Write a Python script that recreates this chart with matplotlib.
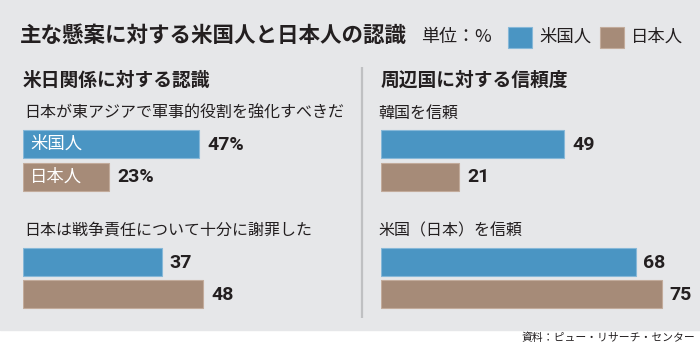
import matplotlib
matplotlib.use("Agg")
import matplotlib.pyplot as plt
from matplotlib.patches import Rectangle

plt.rcParams['font.family'] = ['Noto Sans CJK JP', 'DejaVu Sans']

# data
title = '主な懸案に対する米国人と日本人の認識'
unit_label = '単位：%'
series = ['米国人', '日本人']
panel_titles = ['米日関係に対する認識', '周辺国に対する信頼度']
questions = [['日本が東アジアで軍事的役割を強化すべきだ', '日本は戦争責任について十分に謝罪した'],
             ['韓国を信頼', '米国（日本）を信頼']]
us_values = [[47, 37], [49, 68]]
jp_values = [[23, 48], [21, 75]]
source = '資料：ピュー・リサーチ・センター'

# look
W, H = 700, 349
BG = '#e6e7e9'
BLUE = '#4a95c3'
BROWN = '#a68b78'
EDGES = ['#86b8d8', '#c2ab9b']
INK = '#231f20'
PX_PER_UNIT = 3.75
NUM_FONT = ['Roboto', 'DejaVu Sans']

fig = plt.figure(figsize=(W / 100, H / 100), dpi=100, facecolor='white')
ax0 = fig.add_axes([0, 0, 1, 1])
ax0.set_xlim(0, W)
ax0.set_ylim(H, 0)
ax0.axis('off')

# gray card
ax0.add_patch(Rectangle((0, 0), W, 330, color=BG, zorder=0))

# header
ax0.text(20, 35, title, fontsize=15.5, fontweight='bold', color=INK, va='center')
ax0.text(421, 37, unit_label, fontsize=13, color=INK, va='center')
for i, (name, col) in enumerate(zip(series, [BLUE, BROWN])):
    x = 508 + i * 92
    ax0.add_patch(Rectangle((x, 27), 24, 21, facecolor=col, edgecolor=EDGES[i], lw=0.8))
    ax0.text(x + 31, 37, name, fontsize=12.5, color=INK, va='center')

# divider between panels
ax0.plot([362, 362], [67, 318], color='#bfc0c2', lw=1.6, solid_capstyle='butt')

# source
ax0.text(695, 338, source, fontsize=7.8, color=INK, ha='right', va='center')

panel_x = [23, 380.5]
for p in range(2):
    x0 = panel_x[p]
    ax0.text(x0, 80, panel_titles[p], fontsize=13.5, fontweight='bold', color=INK, va='center')

    ax = fig.add_axes([x0 / W, 0, 310 / W, 1])
    ax.set_xlim(0, 310 / PX_PER_UNIT)
    ax.set_ylim(H, 0)
    ax.axis('off')
    ax.patch.set_alpha(0)

    for q in range(2):
        top = 130 + q * 117.5
        ax0.text(x0 + (1 if p == 0 else -2), top - 17, questions[p][q], fontsize=11.5,
                 color=INK, va='center')
        vals = [us_values[p][q], jp_values[p][q]]
        ys = [top + 14, top + 14 + 32.5]
        ax.barh(ys, vals, height=28, color=[BLUE, BROWN], edgecolor=EDGES, linewidth=0.8)
        for j, (v, y) in enumerate(zip(vals, ys)):
            lab = f'{v}%' if (p == 0 and q == 0) else str(v)
            ax.text(v + 8 / PX_PER_UNIT, y + 1, lab, fontsize=14, fontweight='bold',
                    family=NUM_FONT, color=INK, va='center')
            if p == 0 and q == 0:
                ax.text(7 / PX_PER_UNIT, y, series[j], fontsize=12.5, color='white',
                        va='center')

fig.savefig('out.png', dpi=100, facecolor='white')
